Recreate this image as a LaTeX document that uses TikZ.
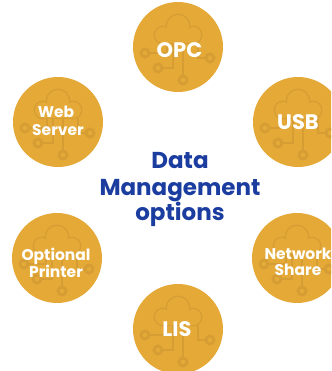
\documentclass[tikz,border=0pt]{standalone}
\usepackage{fontspec}
\setmainfont{Poppins}
\definecolor{gold}{RGB}{228,169,54}
\definecolor{goldline}{RGB}{214,157,52}
\definecolor{navy}{RGB}{28,61,160}
\tikzset{
  bub/.style={circle, fill=gold, minimum size=90pt, inner sep=0pt},
  iconline/.style={draw=goldline, line width=2.8pt},
  lblbig/.style={text=white, font=\bfseries\fontsize{21}{25}\selectfont, anchor=base, inner sep=0pt},
  lblsmall/.style={text=white, font=\bfseries\fontsize{15.5}{18}\selectfont, anchor=base, inner sep=0pt},
  ctitle/.style={text=navy, font=\bfseries\fontsize{23}{26}\selectfont, anchor=base, inner sep=0pt},
  icon/.pic={
    % circuit lines
    \draw[iconline] (-11,-4) -- (-11,6) -- (-29,6);
    \draw[iconline] (-5,-4) -- (-5,21) -- (-16,21);
    \draw[iconline] (5,-4) -- (5,29);
    \draw[iconline] (20,-4) -- (20,11) -- (28,11);
    \draw[iconline] (-33,6) circle (4);
    \draw[iconline] (-20,21) circle (4);
    \draw[iconline] (5,33) circle (4);
    \draw[iconline] (32,11) circle (4);
    % cloud outline
    \draw[iconline] (-15,-12) circle (8);
    \draw[iconline] (0,-21) circle (11);
    \draw[iconline] (15,-12) circle (8);
    \draw[iconline] (-15,-12) rectangle (15,-4);
    \fill[gold] (-15,-12) circle (8);
    \fill[gold] (0,-21) circle (11);
    \fill[gold] (15,-12) circle (8);
    \fill[gold] (-15,-12) rectangle (15,-4);
  }
}
\begin{document}
\begin{tikzpicture}[x=1pt,y=-1pt]
\useasboundingbox (0,0) rectangle (331,371);
\clip (0,0) rectangle (331,371);
\fill[white] (0,0) rectangle (331,371);
% bubbles
\node[bub] (opc) at (178,47) {};
\node[bub] (usb) at (298,122) {};
\node[bub] (web) at (58,122) {};
\node[bub] (prn) at (57,258) {};
\node[bub] (net) at (297,258) {};
\node[bub] (lis) at (178,329) {};
\foreach \n in {opc,usb,web,prn,net,lis} { \pic at (\n.center) {icon}; }
% labels
\node[lblbig] (topc) at (179.5,58) {OPC};
\node[lblbig] (tusb) at (298,130) {USB};
\node[lblbig] (tlis) at (177,336) {LIS};
\node[lblsmall] (tweb1) at (56,118) {Web};
\node[lblsmall] (tweb2) at (58,136) {Server};
\node[lblsmall] (tprn1) at (56,260) {Optional};
\node[lblsmall] (tprn2) at (56,277) {Printer};
\node[lblsmall] (tnet1) at (298,259) {Network};
\node[lblsmall] (tnet2) at (298,275) {Share};
% centre title
\node[ctitle] (c1) at (180,168) {Data};
\node[ctitle] (c2) at (180,195) {Management};
\node[ctitle] (c3) at (180,220) {options};
\end{tikzpicture}
\end{document}
